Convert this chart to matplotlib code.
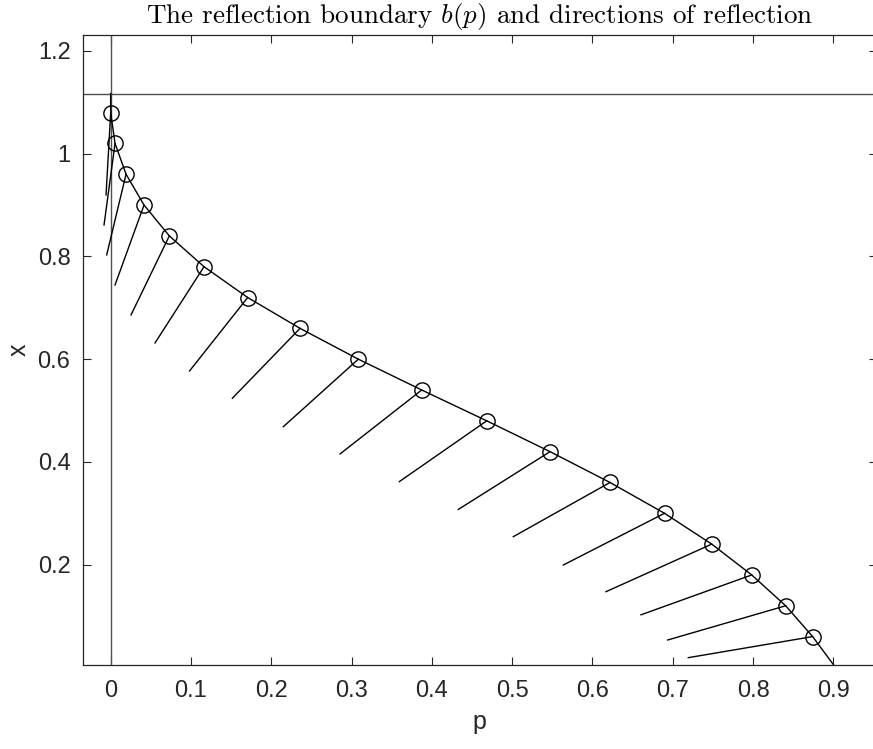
import matplotlib
matplotlib.use("Agg")
import matplotlib.pyplot as plt

# Points on the reflection boundary (marked with circles)
x_pts = [1.08, 1.02, 0.96, 0.90, 0.84, 0.78, 0.72, 0.66, 0.60,
         0.54, 0.48, 0.42, 0.36, 0.30, 0.24, 0.18, 0.12, 0.06]
p_pts = [0.0001, 0.0055, 0.0192, 0.0416, 0.0731, 0.1163, 0.1707, 0.2359, 0.3085,
         0.3874, 0.4684, 0.5472, 0.6219, 0.6898, 0.7486, 0.7984, 0.8407, 0.8743]

# End points of the reflection-direction segments
p_end = [-0.0057, -0.0082, -0.0049, 0.0055, 0.0254, 0.0553, 0.0983, 0.1516, 0.2151,
         0.2857, 0.3595, 0.4330, 0.5015, 0.5638, 0.6169, 0.6605, 0.6938, 0.7194]
x_end = [0.9197, 0.8613, 0.8029, 0.7445, 0.6861, 0.6316, 0.5771, 0.5239, 0.4686,
         0.4155, 0.3616, 0.3075, 0.2545, 0.1994, 0.1474, 0.1024, 0.0534, 0.0190]

# Boundary curve end points
p_top, x_top = 0.0, 1.117
p_bot, x_bot = 0.9027, 0.0

# Reference lines
x_hline = 1.117
p_vline = 0.0

xticks = [0, 0.1, 0.2, 0.3, 0.4, 0.5, 0.6, 0.7, 0.8, 0.9]
xtick_labels = ["0", "0.1", "0.2", "0.3", "0.4", "0.5", "0.6", "0.7", "0.8", "0.9"]
yticks = [0.2, 0.4, 0.6, 0.8, 1.0, 1.2]
ytick_labels = ["0.2", "0.4", "0.6", "0.8", "1", "1.2"]

plt.rcParams['mathtext.fontset'] = 'cm'
plt.rcParams['font.family'] = ['Liberation Sans', 'DejaVu Sans']

W, H = 873, 749
fig = plt.figure(figsize=(W / 100, H / 100), dpi=100)
right_px = 876.5
ax = fig.add_axes([83 / W, (H - 664.7) / H, (right_px - 83) / W, (664.7 - 35) / H])

axc = '#262626'
ax.axhline(x_hline, color='#505050', lw=1.0)
ax.axvline(p_vline, color='#505050', lw=1.0)

curve_p = [p_top] + p_pts + [p_bot]
curve_x = [x_top] + x_pts + [x_bot]
ax.plot(curve_p, curve_x, color='k', lw=1.0)

for p0, x0, p1, x1 in zip(p_pts, x_pts, p_end, x_end):
    ax.plot([p0, p1], [x0, x1], color='k', lw=1.0)

ax.plot(p_pts, x_pts, linestyle='none', marker='o', ms=11, mfc='none',
        mec='k', mew=1.0)

ax.set_xlim(-0.0344, (right_px - 110.6) / 803)
ax.set_ylim(0.0053, 1.231)
ax.set_xticks(xticks)
ax.set_xticklabels(xtick_labels)
ax.set_yticks(yticks)
ax.set_yticklabels(ytick_labels)
ax.tick_params(direction='in', length=6, width=0.8, colors=axc, labelsize=17,
               top=True, right=True)
ax.tick_params(axis='x', pad=11)
ax.tick_params(axis='y', pad=9)
for s in ax.spines.values():
    s.set_color(axc)
    s.set_linewidth(0.9)

ax.set_xlabel('p', fontsize=18, color=axc, labelpad=6)
ax.set_ylabel('x', fontsize=18, color=axc, labelpad=5)
ax.set_title(r'The reflection boundary $b(p)$ and directions of reflection',
             fontsize=19.5, family='cmr10', color='k', pad=9)

fig.savefig('out.png', dpi=100)
